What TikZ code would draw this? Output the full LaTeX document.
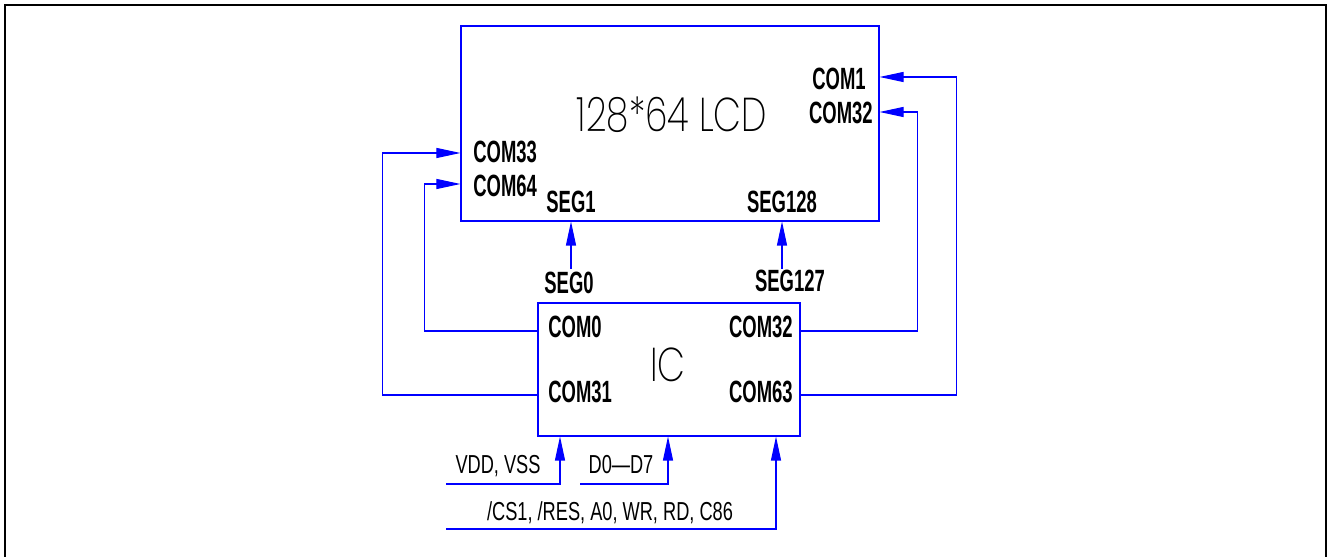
\documentclass[tikz,border=0pt]{standalone}
\usepackage{fontspec}
\usetikzlibrary{arrows.meta,calc,positioning}
\newfontfamily\pinfont[FakeStretch=0.60]{Liberation Sans}
\newfontfamily\sigfont[FakeStretch=0.70]{Liberation Sans}
\IfFontExistsTF{FiraSans-ExtraLight.otf}
  {\newfontfamily\thinfont[FakeStretch=0.86]{FiraSans-ExtraLight.otf}}
  {\IfFontExistsTF{Poppins ExtraLight}
    {\newfontfamily\thinfont[FakeStretch=0.76]{Poppins ExtraLight}}
    {\IfFontExistsTF{Lato Light}
      {\newfontfamily\thinfont[FakeStretch=0.88]{Lato Light}}
      {\newfontfamily\thinfont[FakeStretch=0.86]{Liberation Sans}}}}

\begin{document}
\begin{tikzpicture}[
    x=0.2mm, y=-0.2mm,
    frame/.style={draw=black, line width=1.2pt},
    box/.style={rectangle, draw=blue, line width=0.6pt, inner sep=0pt},
    wire/.style={draw=blue, line width=0.6pt},
    pin/.style={wire, -{Triangle[length=4.8mm, width=2mm]}},
    pinlabel/.style={font=\pinfont\bfseries\fontsize{17.5}{21}\selectfont, inner sep=0pt},
    siglabel/.style={font=\sigfont\fontsize{14.8}{17}\selectfont, inner sep=0pt},
    title/.style={font=\thinfont\fontsize{27}{32}\selectfont, text=black, inner sep=0pt},
]
\useasboundingbox (0,0) rectangle (1329,557);

% Outer frame (open at the bottom)
\draw[frame] (5,557) -- (5,5) -- (1326,5) -- (1326,557);

% LCD panel
\node[box, minimum width=83.6mm, minimum height=39mm] (lcd) at (670,123.5) {};
\node[title, anchor=base] (lcdname) at (672,132) {128*64 LCD};
\node[pinlabel, anchor=base east] (lcdcom1) at (866,90) {COM1};
\node[pinlabel, anchor=base east] (lcdcom32) at (873,124) {COM32};
\node[pinlabel, anchor=base west] (lcdcom33) at (473,163) {COM33};
\node[pinlabel, anchor=base west] (lcdcom64) at (473,197) {COM64};
\node[pinlabel, anchor=base] (lcdseg1) at (571,213) {SEG1};
\node[pinlabel, anchor=base] (lcdseg128) at (782,213) {SEG128};

% Driver IC
\node[box, minimum width=52.4mm, minimum height=26.6mm] (ic) at (669,369.5) {};
\node[title, anchor=base] (icname) at (668,382) {IC};
\node[pinlabel, anchor=base west] (iccom0) at (548,338) {COM0};
\node[pinlabel, anchor=base west] (iccom31) at (548,403) {COM31};
\node[pinlabel, anchor=base east] (iccom32) at (793,338) {COM32};
\node[pinlabel, anchor=base east] (iccom63) at (793,403) {COM63};
\node[pinlabel, anchor=base] (icseg0) at (569,294) {SEG0};
\node[pinlabel, anchor=base] (icseg127) at (790,292) {SEG127};

% Pin points on the boxes
\coordinate (lcd-com1) at (lcd.east |- 0,77);
\coordinate (lcd-com32) at (lcd.east |- 0,112);
\coordinate (lcd-com33) at (lcd.west |- 0,153);
\coordinate (lcd-com64) at (lcd.west |- 0,184);
\coordinate (ic-com0) at (ic.west |- 0,331);
\coordinate (ic-com31) at (ic.west |- 0,395);
\coordinate (ic-com32) at (ic.east |- 0,331);
\coordinate (ic-com63) at (ic.east |- 0,395);
\coordinate (seg0-pin) at (571,269);
\coordinate (seg127-pin) at (782,269);

% Common lines
\draw[pin] (ic-com63) -| ($(lcd-com1)+(77,0)$) -- (lcd-com1);
\draw[pin] (ic-com32) -| ($(lcd-com32)+(38,0)$) -- (lcd-com32);
\draw[pin] (ic-com31) -| ($(lcd-com33)+(-78,0)$) -- (lcd-com33);
\draw[pin] (ic-com0) -| ($(lcd-com64)+(-36,0)$) -- (lcd-com64);

% Segment lines
\draw[pin] (seg0-pin) -- (seg0-pin |- lcd.south);
\draw[pin] (seg127-pin) -- (seg127-pin |- lcd.south);

% Inputs to the IC
\coordinate (vdd-end) at (446,484);
\coordinate (data-end) at (580,484);
\coordinate (ctrl-end) at (446,529);
\draw[pin] (vdd-end) -| (ic.south -| 560,0);
\draw[pin] (data-end) -| (ic.south -| 668,0);
\draw[pin] (ctrl-end) -| (ic.south -| 776,0);
\node[siglabel, anchor=base] (vdd) at (498,474) {VDD, VSS};
\node[siglabel, anchor=base] (data) at (621,474) {D0—D7};
\node[siglabel, anchor=base] (ctrl) at (610,521) {/CS1, /RES, A0, WR, RD, C86};

\end{tikzpicture}
\end{document}
